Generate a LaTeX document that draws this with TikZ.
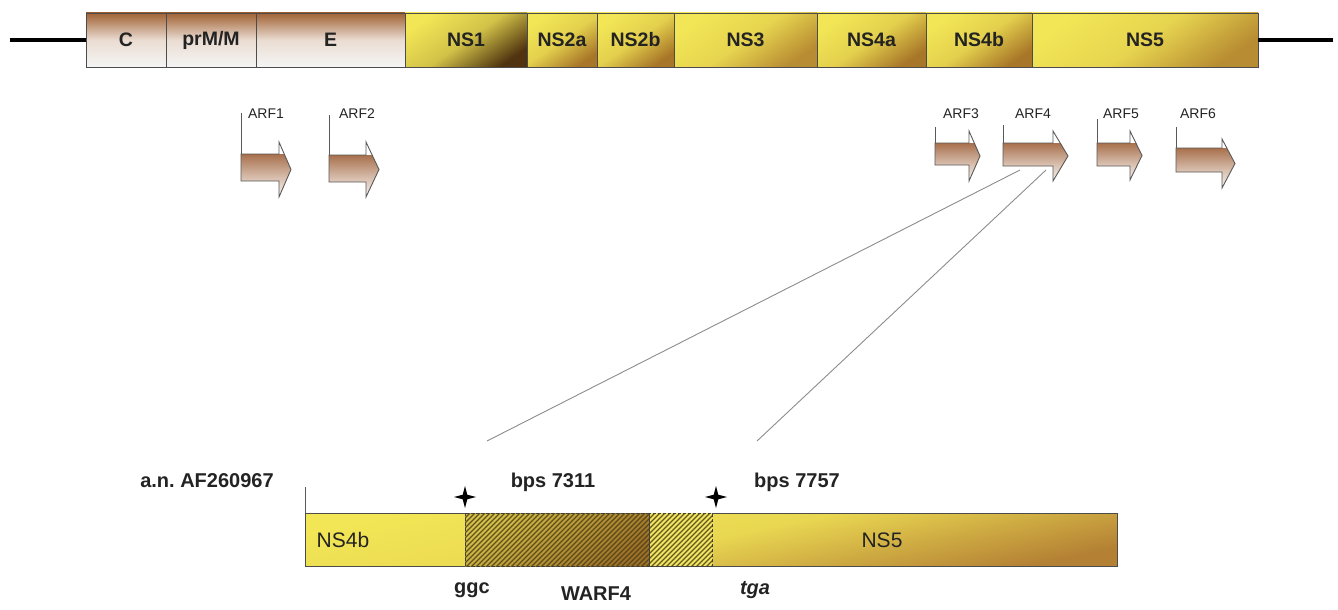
\documentclass[tikz,border=0pt]{standalone}
\usepackage{fontspec}
\setmainfont{Liberation Sans}
\frenchspacing
\definecolor{segbrown}{RGB}{160,98,52}
\definecolor{nsyellow}{RGB}{242,230,86}
\definecolor{nsbrownA}{RGB}{80,52,16}
\definecolor{nsbrownB}{RGB}{168,118,40}
\definecolor{nsbrownC}{RGB}{184,140,50}
\definecolor{arfbrown}{RGB}{168,112,76}
\definecolor{barbrown}{RGB}{180,128,52}
\definecolor{hatchA}{RGB}{212,194,74}
\definecolor{hatchB}{RGB}{156,112,40}
\definecolor{hatchC}{RGB}{240,230,98}
\definecolor{hatchline}{RGB}{78,62,20}
\definecolor{txt}{RGB}{35,35,35}
\tikzset{
  seg/.style={draw=black!70, line width=0.9pt, inner sep=0pt, outer sep=0pt,
    minimum height=54pt, anchor=north west, text=txt,
    font=\fontsize{19.5}{22}\selectfont\bfseries},
  brownseg/.style={seg, top color=segbrown, bottom color=white!96!black, middle color=segbrown!22!white},
  yseg/.style={seg, top color=nsyellow, bottom color=#1, middle color=nsyellow!80!#1, shading angle=35},
  lbl/.style={text=txt, inner sep=0pt, font=\fontsize{20}{24}\selectfont\bfseries},
  barlbl/.style={text=txt, inner sep=0pt, font=\fontsize{21}{24}\selectfont},
  arflbl/.style={text=txt, inner sep=0pt, font=\fontsize{14}{16}\selectfont},
  arfshade/.style={top color=arfbrown, bottom color=white, middle color=arfbrown!45!white},
  arfedge/.style={draw=black!65, line width=0.9pt, line join=miter},
  arfline/.style={draw=black!65, line width=0.9pt},
  hatchbox/.style={inner sep=0pt, outer sep=0pt, minimum height=53pt, anchor=north west},
  hatchborder/.style={draw=black!75, densely dashed, line width=0.8pt},
  hatchstroke/.style={draw=hatchline, line width=1.2pt, opacity=0.85},
  zoomline/.style={draw=black!45, line width=0.9pt},
  starmark/.style={fill=black}
}
\begin{document}
\begin{tikzpicture}[x=1pt,y=-1pt]
\useasboundingbox (0,0) rectangle (1338,610);
% genome line
\coordinate (lineL) at (10,40);
\coordinate (lineR) at (1333,40);
% top segments
\node[brownseg, minimum width=80pt] (C) at (86,13) {C};
\node[brownseg, minimum width=90pt] (prM) at (166,13) {prM/M};
\node[brownseg, minimum width=149pt] (E) at (256,13) {E};
\node[yseg=nsbrownA, minimum width=122pt] (NS1) at (405,13) {NS1};
\node[yseg=nsbrownB, minimum width=70pt] (NS2a) at (527,13) {NS2a};
\node[yseg=nsbrownB, minimum width=77pt] (NS2b) at (597,13) {NS2b};
\node[yseg=nsbrownC, minimum width=143pt] (NS3) at (674,13) {NS3};
\node[yseg=nsbrownB, minimum width=109pt] (NS4a) at (817,13) {NS4a};
\node[yseg=nsbrownB, minimum width=106pt] (NS4b) at (926,13) {NS4b};
\node[yseg=nsbrownC, minimum width=226pt] (NS5) at (1032,13) {NS5};
\draw[line width=4pt] (lineL) -- (C.west);
\draw[line width=4pt] (NS5.east) -- (lineR);
% ARF arrows
\foreach \n/\xa/\xh/\xb/\yht/\yst/\ysb/\yhb/\ylt/\lx in {
  1/241/279/291/142/154/181/197/113/266,
  2/329/366/379/142/155/182/197/115/357,
  3/935/969/980/131/143/165/181/127/961,
  4/1003/1053/1068/131/143/166/181/125/1033,
  5/1097/1130/1142/131/143/166/180/119/1121,
  6/1176/1222/1235/139/148/172/188/127/1198}{
  \coordinate (arftop\n) at (\xa,\ylt);
  \coordinate (arfst\n) at (\xa,\yst);
  \draw[arfline] (arftop\n) -- (arfst\n);
  \begin{scope}
    \clip (\xa,\yst) -- (\xh,\yst) -- (\xh,\yht) -- (\xb,{(\yht+\yhb)/2}) -- (\xh,\yhb) -- (\xh,\ysb) -- (\xa,\ysb) -- cycle;
    \shade[arfshade] (\xa,\yst) rectangle (\xb,{\yhb+4});
  \end{scope}
  \path[arfedge] (\xa,\yst) -- (\xh,\yst) -- (\xh,\yht) -- (\xb,{(\yht+\yhb)/2}) -- (\xh,\yhb) -- (\xh,\ysb) -- (\xa,\ysb) -- cycle;
  \node[arflbl] (arf\n) at (\lx,114) {ARF\n};
}
% zoom lines
\coordinate (z1a) at (1020,170);
\coordinate (z2a) at (1046,170);
\coordinate (z1b) at (487,441);
\coordinate (z2b) at (757,441);
\draw[zoomline] (z1a) -- (z1b);
\draw[zoomline] (z2a) -- (z2b);
% bottom bar
\node[draw=black!70, line width=0.9pt, inner sep=0pt, outer sep=0pt, minimum width=812pt,
  minimum height=53pt, anchor=north west, top color=nsyellow, bottom color=barbrown,
  middle color=nsyellow!85!barbrown, shading angle=12] (bar) at (305,513) {};
\node[hatchbox, minimum width=184pt, top color=hatchA, bottom color=hatchB, shading angle=35] (warf) at (465,513) {};
\node[hatchbox, minimum width=63pt, fill=hatchC] (warfb) at (649,513) {};
\begin{scope}
  \clip (warf.north west) rectangle (warfb.south east);
  \foreach \k in {0,5,...,305}{
    \draw[hatchstroke] ({410+\k},568) -- ({466+\k},512);
  }
\end{scope}
\draw[hatchborder] (warf.north west) rectangle (warf.south east);
\draw[hatchborder] (warfb.north west) rectangle (warfb.south east);
\coordinate (bartop) at (305,487);
\draw[arfline] (bartop) -- (bar.north west);
% stars
\fill[starmark, shift={(465,497)}] (0,-11) -- (2.3,-2.3) -- (11,0) -- (2.3,2.3) -- (0,11) -- (-2.3,2.3) -- (-11,0) -- (-2.3,-2.3) -- cycle;
\fill[starmark, shift={(716,497)}] (0,-11) -- (2.3,-2.3) -- (11,0) -- (2.3,2.3) -- (0,11) -- (-2.3,2.3) -- (-11,0) -- (-2.3,-2.3) -- cycle;
% labels
\node[lbl] (an) at (207,481) {a.n. AF260967};
\node[lbl] (bps1) at (553,482) {bps 7311};
\node[lbl] (bps2) at (797,482) {bps 7757};
\node[barlbl] (ns4bl) at (343,540) {NS4b};
\node[barlbl] (ns5l) at (882,540) {NS5};
\node[lbl] (ggc) at (472,590) {ggc};
\node[lbl] (warfl) at (596,594) {WARF4};
\node[lbl, font=\fontsize{20}{24}\selectfont\bfseries\itshape] (tga) at (755,590) {tga};
\end{tikzpicture}
\end{document}
